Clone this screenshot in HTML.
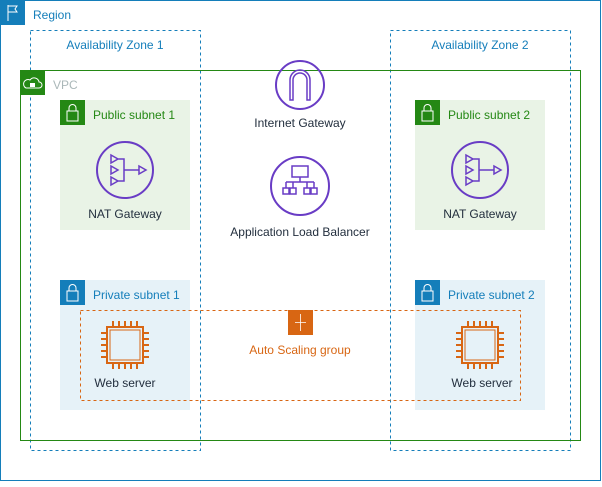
<!DOCTYPE html>
<html><head><style>
body{margin:0;background:#fff;width:602px;height:482px;overflow:hidden}
svg text{font-family:"Liberation Sans",Arial,sans-serif;font-size:12px}
</style></head><body>
<svg width="602" height="482" viewBox="0 0 602 482">
<rect x="0.5" y="0.5" width="600" height="480" fill="#fff" stroke="#147EBA"/>
<rect x="0" y="0" width="25" height="25" fill="#147EBA"/>
<path d="M8 5v16M8 6h9l-2 3 2 3H8" fill="none" stroke="#fff" stroke-width="1"/>
<text x="33" y="19" fill="#147EBA">Region</text>

<rect x="30.5" y="30.5" width="170" height="420" fill="none" stroke="#147EBA" stroke-dasharray="3,3"/>
<text x="115" y="49" fill="#147EBA" text-anchor="middle">Availability Zone 1</text>
<rect x="390.5" y="30.5" width="180" height="420" fill="none" stroke="#147EBA" stroke-dasharray="3,3"/>
<text x="480" y="49" fill="#147EBA" text-anchor="middle">Availability Zone 2</text>

<rect x="20.5" y="70.5" width="560" height="370" fill="none" stroke="#248814"/>
<rect x="20" y="70" width="25" height="25" fill="#248814"/>
<path d="M26 88h13a3 3 0 0 0 0-6 5 5 0 0 0-9-2 3 3 0 0 0-4 8z" fill="none" stroke="#fff"/>
<rect x="30" y="83" width="5" height="4" fill="#fff"/>
<text x="53" y="89" fill="#AAB7B8">VPC</text>

<rect x="60" y="100" width="130" height="130" fill="#E9F3E6"/>
<rect x="60" y="100" width="25" height="25" fill="#248814"/>
<rect x="67" y="111" width="11" height="10" fill="none" stroke="#fff"/>
<path d="M69 111v-3a3.5 3.5 0 0 1 7 0v3" fill="none" stroke="#fff"/>
<text x="93" y="119" fill="#248814">Public subnet 1</text>
<rect x="415" y="100" width="130" height="130" fill="#E9F3E6"/>
<rect x="415" y="100" width="25" height="25" fill="#248814"/>
<rect x="422" y="111" width="11" height="10" fill="none" stroke="#fff"/>
<path d="M424 111v-3a3.5 3.5 0 0 1 7 0v3" fill="none" stroke="#fff"/>
<text x="448" y="119" fill="#248814">Public subnet 2</text>

<rect x="60" y="280" width="130" height="130" fill="#E6F2F8"/>
<rect x="60" y="280" width="25" height="25" fill="#147EBA"/>
<rect x="67" y="291" width="11" height="10" fill="none" stroke="#fff"/>
<path d="M69 291v-3a3.5 3.5 0 0 1 7 0v3" fill="none" stroke="#fff"/>
<text x="93" y="299" fill="#147EBA">Private subnet 1</text>
<rect x="415" y="280" width="130" height="130" fill="#E6F2F8"/>
<rect x="415" y="280" width="25" height="25" fill="#147EBA"/>
<rect x="422" y="291" width="11" height="10" fill="none" stroke="#fff"/>
<path d="M424 291v-3a3.5 3.5 0 0 1 7 0v3" fill="none" stroke="#fff"/>
<text x="448" y="299" fill="#147EBA">Private subnet 2</text>

<g fill="none" stroke="#693CC5" stroke-width="2">
<circle cx="125" cy="170" r="28"/>
<path d="M111 155l7 4-7 4zM111 166l7 4-7 4zM111 177l7 4-7 4zM118 159h6v22h-6M124 170h15M139 166l7 4-7 4z" stroke-width="1.5"/>
<circle cx="480" cy="170" r="28"/>
<path d="M466 155l7 4-7 4zM466 166l7 4-7 4zM466 177l7 4-7 4zM473 159h6v22h-6M479 170h15M494 166l7 4-7 4z" stroke-width="1.5"/>
<circle cx="300" cy="85" r="24"/>
<path d="M290 100v-20a10 10 0 0 1 20 0v20h-3v-20a7 7 0 0 0-14 0v20z" stroke-width="1.5"/>
<circle cx="300" cy="186" r="29"/>
<g stroke-width="1.5"><rect x="292" y="166" width="16" height="11"/><path d="M300 177v5M286 182h28M286 182v6M314 182v6M293 182v6M307 182v6"/>
<rect x="283" y="188" width="6" height="6"/><rect x="290" y="188" width="6" height="6"/><rect x="304" y="188" width="6" height="6"/><rect x="311" y="188" width="6" height="6"/></g>
</g>
<g fill="#232F3E" text-anchor="middle">
<text x="125" y="218">NAT Gateway</text>
<text x="480" y="218">NAT Gateway</text>
<text x="300" y="127">Internet Gateway</text>
<text x="300" y="236">Application Load Balancer</text>
<text x="125" y="387">Web server</text>
<text x="482" y="387">Web server</text>
</g>

<rect x="80.5" y="310.5" width="440" height="90" fill="none" stroke="#D86613" stroke-dasharray="3,3"/>
<rect x="288" y="310" width="25" height="25" fill="#D86613"/>
<path d="M300.5 314v17M295 322.5h11" stroke="#fff" stroke-width="0.8"/>
<text x="300" y="354" fill="#D86613" text-anchor="middle">Auto Scaling group</text>

<g fill="none" stroke="#D86613" stroke-width="2">
<rect x="107" y="327" width="36" height="36"/><rect x="110" y="330" width="30" height="30" stroke-width="1"/>
<path d="M113 327v-6M119 327v-6M125 327v-6M131 327v-6M137 327v-6M113 363v6M119 363v6M125 363v6M131 363v6M137 363v6M107 333h-6M107 339h-6M107 345h-6M107 351h-6M107 357h-6M143 333h6M143 339h6M143 345h6M143 351h6M143 357h6"/>
<rect x="462" y="327" width="36" height="36"/><rect x="465" y="330" width="30" height="30" stroke-width="1"/>
<path d="M468 327v-6M474 327v-6M480 327v-6M486 327v-6M492 327v-6M468 363v6M474 363v6M480 363v6M486 363v6M492 363v6M462 333h-6M462 339h-6M462 345h-6M462 351h-6M462 357h-6M498 333h6M498 339h6M498 345h6M498 351h6M498 357h6"/>
</g>
</svg>
</body></html>
